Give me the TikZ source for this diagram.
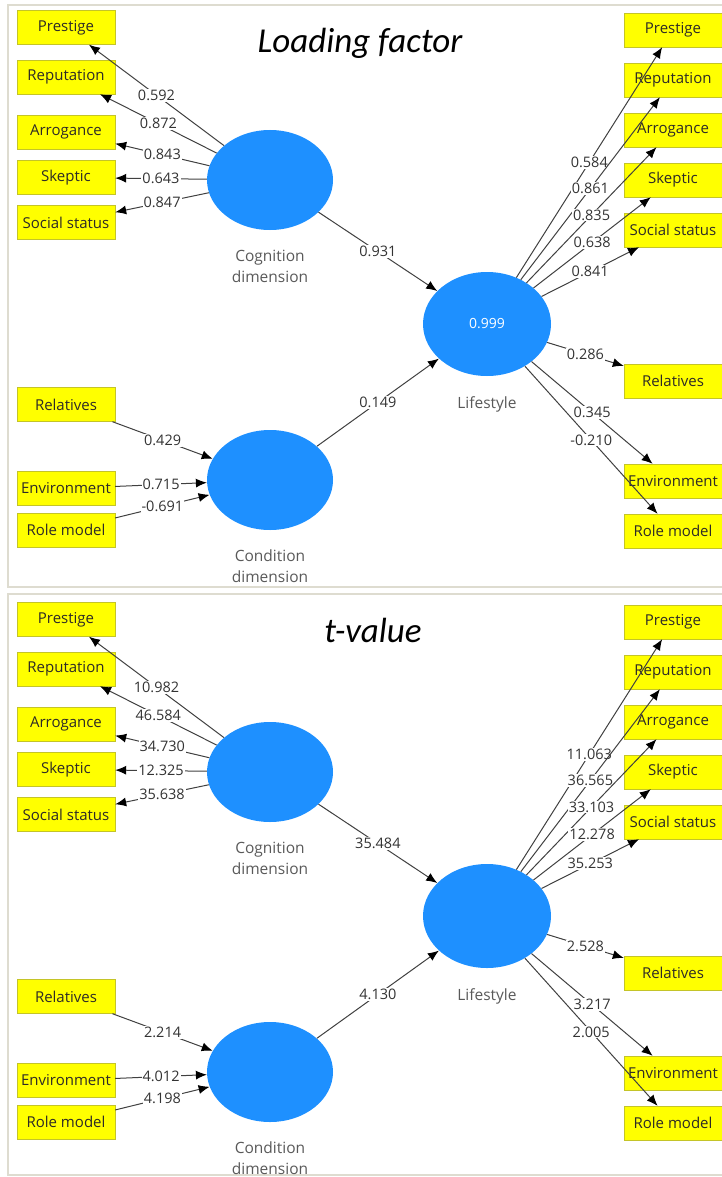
\documentclass[tikz,border=0pt]{standalone}
\usepackage{fontspec}
\setmainfont{Open Sans}
\newfontfamily\titlefont{Carlito}
\usetikzlibrary{shapes.geometric,arrows.meta}
\definecolor{plsblue}{RGB}{30,144,255}
\definecolor{plsyellow}{RGB}{255,255,0}
\definecolor{boxline}{RGB}{196,196,40}
\definecolor{frameline}{RGB}{222,220,208}
\definecolor{edgegray}{RGB}{64,64,64}

\tikzset{
  indbox/.style={draw=boxline, fill=plsyellow, minimum width=98pt, minimum height=34pt,
    inner sep=0pt, font=\fontsize{15}{17}\selectfont, text=black!90!olive},
  latent/.style={ellipse, fill=plsblue, inner sep=0pt, minimum width=126pt, minimum height=100pt},
  latname/.style={align=center, font=\fontsize{15.5}{21}\selectfont, text=black!65},
  loadarrow/.style={draw=edgegray, line width=1pt, -{Latex[length=11pt,width=9pt,color=black]}},
  val/.style={fill=white, inner sep=1pt, font=\fontsize{14.5}{16}\selectfont, text=black!80},
  paneltitle/.style={anchor=base, font=\titlefont\itshape\fontsize{35}{38}\selectfont},
}

% nodes of one panel: #1 suffix, #2 y offset, #3 text in Lifestyle
\newcommand{\plsnodes}[3]{%
  \begin{scope}[shift={(0,#2)}]
    \node[indbox] (lpre-#1) at (66,27.5) {Prestige};
    \node[indbox] (lrep-#1) at (66,77) {Reputation};
    \node[indbox] (larr-#1) at (66,132) {Arrogance};
    \node[indbox] (lske-#1) at (66,177.5) {Skeptic};
    \node[indbox] (lsoc-#1) at (66,222.5) {Social status};
    \node[indbox] (lrel-#1) at (66,404.5) {Relatives};
    \node[indbox] (lenv-#1) at (66,488.5) {Environment};
    \node[indbox] (lrol-#1) at (66,530) {Role model};
    \node[indbox] (rpre-#1) at (673,30) {Prestige};
    \node[indbox] (rrep-#1) at (673,80) {Reputation};
    \node[indbox] (rarr-#1) at (673,130) {Arrogance};
    \node[indbox] (rske-#1) at (673,180) {Skeptic};
    \node[indbox] (rsoc-#1) at (673,230) {Social status};
    \node[indbox] (rrel-#1) at (673,381) {Relatives};
    \node[indbox] (renv-#1) at (673,481) {Environment};
    \node[indbox] (rrol-#1) at (673,531) {Role model};
    \node[latent] (cog-#1) at (270,180) {};
    \node[latent] (con-#1) at (270,480) {};
    \node[latent, minimum width=128pt, minimum height=104pt, text=white,
      font=\fontsize{14}{16}\selectfont] (lif-#1) at (487,324) {#3};
    \node[latname] (cogname-#1) at (270,266) {Cognition\\dimension};
    \node[latname] (conname-#1) at (270,566) {Condition\\dimension};
    \node[latname] (lifname-#1) at (487,404) {Lifestyle};
  \end{scope}
}

\begin{document}
\begin{tikzpicture}[x=1pt, y=-1pt]
  \useasboundingbox (0,0) rectangle (722,1177);
  \draw[frameline, line width=1.5pt] (8,5) rectangle (740,587);
  \draw[frameline, line width=1.5pt] (8,594) rectangle (740,1175);

  % loading factors
  \plsnodes{A}{0}{0.999}
  \node[paneltitle] (title-A) at (360,53) {Loading factor};
  \foreach \ind/\v in {pre/0.592, rep/0.872, arr/0.843, ske/0.643, soc/0.847}
    \draw[loadarrow] (cog-A) -- node[val]{\v} (l\ind-A);
  \foreach \ind/\v in {rel/0.429, env/0.715, rol/-0.691}
    \draw[loadarrow] (l\ind-A) -- node[val]{\v} (con-A);
  \draw[loadarrow] (cog-A) -- node[val]{0.931} (lif-A);
  \draw[loadarrow] (con-A) -- node[val]{0.149} (lif-A);
  \foreach \ind/\v in {pre/0.584, rep/0.861, arr/0.835, ske/0.638, soc/0.841,
                       rel/0.286, env/0.345, rol/-0.210}
    \draw[loadarrow] (lif-A) -- node[val]{\v} (r\ind-A);

  % t-values
  \plsnodes{B}{592}{}
  \node[paneltitle] (title-B) at (373,642) {t-value};
  \foreach \ind/\v in {pre/10.982, rep/46.584, arr/34.730, ske/12.325, soc/35.638}
    \draw[loadarrow] (cog-B) -- node[val]{\v} (l\ind-B);
  \foreach \ind/\v in {rel/2.214, env/4.012, rol/4.198}
    \draw[loadarrow] (l\ind-B) -- node[val]{\v} (con-B);
  \draw[loadarrow] (cog-B) -- node[val]{35.484} (lif-B);
  \draw[loadarrow] (con-B) -- node[val]{4.130} (lif-B);
  \foreach \ind/\v in {pre/11.063, rep/36.565, arr/33.103, ske/12.278, soc/35.253,
                       rel/2.528, env/3.217, rol/2.005}
    \draw[loadarrow] (lif-B) -- node[val]{\v} (r\ind-B);
\end{tikzpicture}
\end{document}
